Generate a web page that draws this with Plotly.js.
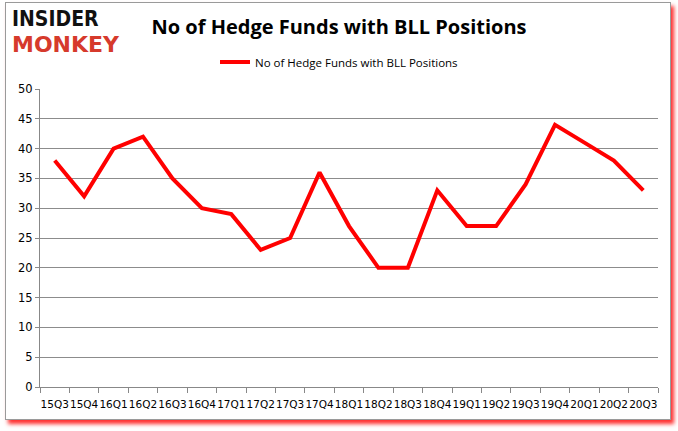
<!DOCTYPE html>
<html>
<head>
<meta charset="utf-8">
<script src="https://cdn.plot.ly/plotly-3.0.1.min.js"></script>
<style>
  body { margin: 0; background: #fff; }
  #frame { position: absolute; left: 5px; top: 2px; width: 664px; height: 416px;
           border: 1px solid #9a9a9a; box-shadow: 3px 4px 4px #ff3030; background: #fff; }
  #chart { position: absolute; left: 0; top: 0; width: 678px; height: 431px; }
</style>
</head>
<body>
<div id="frame"></div>
<div id="chart"></div>
<script>
// quarters and hedge fund counts
const quarters = ['15Q3','15Q4','16Q1','16Q2','16Q3','16Q4','17Q1','17Q2','17Q3','17Q4',
  '18Q1','18Q2','18Q3','18Q4','19Q1','19Q2','19Q3','19Q4','20Q1','20Q2','20Q3'];
const funds = [38, 32, 40, 42, 35, 30, 29, 23, 25, 36, 27, 20, 20, 33, 27, 27, 34, 44, 41, 38, 33];
const seriesName = 'No of Hedge Funds with BLL Positions';
const yTicks = [0, 5, 10, 15, 20, 25, 30, 35, 40, 45, 50];

const trace = {
  x: quarters, y: funds, type: 'scatter', mode: 'lines', name: seriesName,
  line: { color: '#ff0000', width: 4 }
};

const layout = {
  width: 678, height: 431,
  paper_bgcolor: 'rgba(0,0,0,0)', plot_bgcolor: '#fff',
  margin: { l: 40, r: 20, t: 89, b: 44 },
  font: { family: 'DejaVu Sans, Verdana, sans-serif', size: 11, color: '#000' },
  title: {
    text: '<b>No of Hedge Funds with BLL Positions</b>',
    font: { family: 'Open Sans, sans-serif', size: 20, color: '#000' },
    x: 0.5, xref: 'container', xanchor: 'center',
    y: 1 - 27 / 431, yref: 'container', yanchor: 'middle'
  },
  showlegend: true,
  legend: {
    orientation: 'h', x: 0.5, xref: 'container', xanchor: 'center',
    y: 1 - 62 / 431, yref: 'container', yanchor: 'middle',
    font: { family: 'Open Sans, sans-serif', size: 11.5, color: '#000' },
    itemwidth: 30
  },
  xaxis: {
    type: 'category', range: [-0.5, quarters.length - 0.5],
    showline: true, linecolor: '#888', linewidth: 1,
    ticks: 'outside', tickson: 'boundaries', ticklen: 5, tickcolor: '#888',
    ticklabelstandoff: 7,
    showgrid: false, tickangle: 0,
    tickfont: { family: 'DejaVu Sans, Verdana, sans-serif', size: 10.5 }
  },
  yaxis: {
    range: [0, 50], tickvals: yTicks, ticktext: yTicks.map(String),
    showline: true, linecolor: '#888', linewidth: 1,
    showgrid: true, gridcolor: '#8c8c8c', gridwidth: 1,
    ticks: 'outside', ticklen: 4, tickcolor: '#888',
    zeroline: false,
    tickfont: { family: 'DejaVu Sans, Verdana, sans-serif', size: 11.5 }
  },
  annotations: [
    { text: '<b>INSIDER</b>', xref: 'paper', yref: 'paper', x: -0.0485, y: 1.235,
      xanchor: 'left', yanchor: 'middle', showarrow: false,
      font: { family: 'DejaVu Sans Condensed, sans-serif', size: 21, color: '#111' } },
    { text: '<b>MONKEY</b>', xref: 'paper', yref: 'paper', x: -0.0485, y: 1.148,
      xanchor: 'left', yanchor: 'middle', showarrow: false,
      font: { family: 'DejaVu Sans, sans-serif', size: 22, color: '#d63a2c' } }
  ]
};

Plotly.newPlot('chart', [trace], layout, { displayModeBar: false, responsive: false });
</script>
</body>
</html>
